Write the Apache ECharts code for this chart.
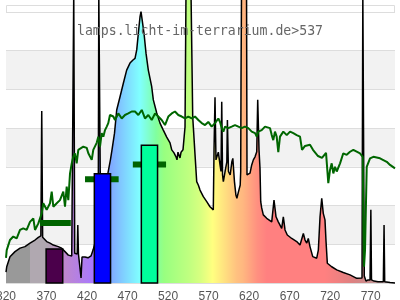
<!DOCTYPE html>
<html><head><meta charset="utf-8">
<script src="https://cdn.jsdelivr.net/npm/echarts@6/dist/echarts.min.js"></script>
<style>html,body{margin:0;padding:0;background:#fff}#c{width:400px;height:300px}</style>
</head><body><div id="c"></div>
<script>
// x ticks (nm)
var xMin = 320, xMax = 800, xStep = 50;
// lamp spectrum: wavelength (nm) and relative intensity
var specNm = [320,320.9,324.9,331.1,337.3,343.4,349.6,355.8,359.9,363.0,364.1,365.2,366.5,370.2,374.3,378.4,384.5,388.7,392.8,396.9,401.1,402.5,403.6,404.8,406.4,407.9,408.6,409.4,411.3,412.6,413.8,417.5,421.2,424.9,427.4,429.2,432.3,433.8,434.5,436.0,436.7,440.9,445.9,449.0,450.8,453.9,456.6,460.7,464.8,468.9,473.0,476.7,479.2,481.3,483.3,485.4,486.6,488.7,490.3,492.8,495.6,499.8,501.8,506.0,510.0,514.1,518.3,522.4,524.5,527.3,529.8,531.0,532.2,534.7,536.0,538.4,540.9,542.1,548.3,550.4,553.2,555.3,557.3,559.4,563.5,567.7,571.7,575.8,576.7,577.9,579.1,580.0,582.0,584.1,585.3,586.2,587.2,588.2,590.3,592.5,593.2,594.5,596.6,598.7,599.9,601.9,603.7,604.9,606.9,609.0,609.6,610.0,610.6,616.8,617.4,619.3,621.1,623.2,625.2,627.3,629.4,630.6,632.2,633.4,634.3,635.5,637.5,641.7,647.9,650.7,653.2,656.0,660.2,662.2,664.3,667.1,672.6,678.7,682.8,686.9,689.0,691.1,693.0,695.1,698.5,703.4,705.4,707.5,709.6,711.5,713.6,714.9,716.5,721.9,728.1,736.2,744.5,752.8,759.3,760.3,761.3,762.1,764.2,766.7,769.2,770.2,771.0,774.1,779.0,785.6,786.5,787.3,793.9,800];
var specVal = [2.8,4.2,6.8,8.1,9.0,9.4,10.3,11.1,11.8,12.2,44.4,11.8,11.5,10.7,10.3,9.8,9.4,9.0,8.1,7.2,7.0,7.0,75,7.7,7.7,7.5,15.0,7.5,7.0,1.3,6.7,6.7,6.5,7.0,8.5,9.8,12.4,14.2,75,75,17.6,22.7,28.5,32.0,34.4,38.7,44.7,48.1,51.6,55.0,56.8,57.6,58.0,60.2,64.5,68.8,70.1,69.7,64.5,59.3,55.0,50.7,47.3,43.9,41.3,39.5,37.7,36.2,34.4,33.6,32.6,31.8,33.8,32.3,33.8,34.4,40.3,75,75,42.9,33.3,26.2,25.3,24.0,22.3,21.0,19.7,18.9,34.4,48.0,31.8,31.3,33.8,30.5,28.8,46.8,27.9,26.2,28.8,31.3,42.1,28.8,27.9,31.3,32.2,26.2,22.7,21.9,23.6,25.3,28.8,52.4,75,75,27.9,27.5,28.4,30.5,31.8,32.6,33.9,47.3,34.4,29.7,21.0,19.4,17.6,16.7,15.8,21.4,17.1,15.8,14.1,17.1,13.7,12.4,11.5,10.7,9.8,12.8,11.1,10.3,11.5,9.4,6.8,6.4,8.5,17.1,21.9,18.0,16.3,10.7,5.1,4.2,3.4,2.7,2.1,1.2,1.3,75,75,1.8,0.5,0.8,0.8,18.9,0.8,0.5,0.3,0.3,15.0,0.3,0.1,0];
// reference (daylight) curve
var sunNm = [320,320.9,324.9,329.0,333.2,337.3,341.3,345.5,349.6,353.7,355.8,359.9,364.1,366.0,370.2,374.3,376.4,378.4,382.6,386.6,390.7,392.8,394.9,396.9,399.0,401.1,403.0,405.1,407.2,409.2,411.3,415.4,419.6,421.6,425.8,427.7,429.8,431.9,433.9,436.0,438.1,440.1,442.2,444.3,446.2,448.3,452.4,454.5,458.6,462.8,466.8,470.9,475.1,479.2,483.3,487.5,491.5,495.6,499.8,503.9,507.9,512.1,516.2,520.3,524.5,528.5,532.6,536.8,540.9,545.0,549.2,553.2,557.3,561.5,565.6,569.6,573.8,577.9,582.0,584.1,586.2,588.2,590.3,594.3,598.5,602.6,606.7,610.8,614.8,619.0,623.2,627.3,629.4,631.3,635.5,639.6,645.8,647.9,649.8,651.9,654.0,656.0,658.1,662.2,666.4,670.5,674.5,678.7,682.8,685.3,689.0,695.1,698.8,705.0,709.9,714.9,717.7,719.8,721.9,723.9,726.0,728.1,732.2,736.2,740.4,744.5,748.6,756.8,760.2,760.9,761.8,763.0,765.1,769.2,773.3,781.5,789.8,793.9,800];
var sunVal = [6.5,8.5,11.1,12.0,11.5,13.7,14.1,13.7,15.8,16.7,13.7,15.4,18.0,20.6,18.9,20.6,23.6,19.7,20.6,21.4,23.6,19.7,24.9,21.4,28.3,30.9,32.6,33.5,30.9,34.4,34.4,35.2,34.9,33.5,31.8,34.4,34.9,36.2,37.8,35.2,38.7,37.8,39.5,40.4,41.3,43.4,43.0,42.1,43.8,42.5,43.4,43.8,44.3,44.3,43.4,44.7,42.5,43.4,42.1,43.8,43.0,42.1,40.8,43.0,43.8,44.3,43.4,43.0,42.5,43.0,42.5,43.0,42.1,41.3,40.8,41.6,40.4,41.3,42.5,41.6,40.0,39.1,40.4,40.0,40.4,40.8,40.4,40.0,40.4,40.0,39.1,38.7,37.8,39.1,39.5,40.4,40.0,38.2,36.9,39.1,37.8,33.8,37.8,39.1,38.2,39.1,38.7,38.2,37.8,34.4,35.4,35.7,34.4,32.8,32.3,33.6,25.8,29.2,30.9,28.3,30.0,28.8,30.9,33.5,33.1,33.9,34.4,33.5,32.6,17.1,4.2,8.5,30.0,32.2,32.6,32.2,31.3,30.5,29.6];
// measured bands: start nm, end nm, value
var barStart = [369.5, 429, 487];
var barEnd = [390, 449, 507];
var barValue = [8.8, 28.2, 35.6];
// target markers: start nm, end nm, value
var markStart = [362, 417.5, 476.5];
var markEnd = [400, 459, 517.5];
var markValue = [15.5, 26.8, 30.6];
var titleText = 'lamps.licht-im-terrarium.de>537';

// styles
var barColors = ['#4b004b', '#0000ff', '#00ff9c'];
var gradNm = [320,349,350,369,389,428,436,449,465,485,495,505,515,546,560,575,590,605,612,630,642,713,730,745,760,780,800];
var gradCol = ['#999999','#999999','#b0a8b0','#b0a8b0','#c088c8','#a878ff','#8888ff','#80a8ff','#80d0ff','#80ffff','#80ffd0','#80ffa0','#98ff80','#c0ff80','#d8ff80','#ffff80','#ffe080','#ffc080','#ffb880','#ff9080','#ff8080','#ff8080','#f08080','#e08080','#d08888','#c09898','#b0a0a0'];

var spec = specNm.map(function(n,i){return [n, specVal[i]];});
var sun = sunNm.map(function(n,i){return [n, sunVal[i]];});
var bars = barStart.map(function(s,i){return [s, barEnd[i], barValue[i]];});
var marks = markStart.map(function(s,i){return [s, markEnd[i], markValue[i]];});
var stops = gradNm.map(function(n,i){return {offset:(n-xMin)/(xMax-xMin), color:gradCol[i]};});

var chart = echarts.init(document.getElementById('c'), null, {renderer:'canvas'});
chart.setOption({
  animation: false,
  title: {text: titleText, left: 'center', top: 25, padding: 0,
    textStyle: {fontFamily: 'DejaVu Sans Mono', fontSize: 13.2, fontWeight: 'normal', color: '#666'}},
  graphic: [{type:'rect', z: 0, silent: true, shape:{x:6.5, y:5.5, width:388, height:277},
    style:{fill:'none', stroke:'#dddddd', lineWidth:1}}],
  grid: {left: 6, right: 5, top: 12, bottom: 17, containLabel:false, outerBoundsMode:'none'},
  xAxis: {type:'value', min:xMin, max:xMax, interval:xStep,
    axisLine:{show:false}, axisTick:{show:false}, splitLine:{show:false},
    axisLabel:{showMaxLabel:false, color:'#555', fontFamily:'Liberation Sans', fontSize:12, margin:8}},
  yAxis: {type:'value', min:0, max:70, interval:10,
    axisLine:{show:false}, axisTick:{show:false}, axisLabel:{show:false},
    splitLine:{lineStyle:{color:'#dddddd'}},
    splitArea:{show:true, areaStyle:{color:['#ffffff','#f2f2f2']}}},
  series: [
    {type:'line', data: spec, symbol:'none', clip:false, z:2,
      lineStyle:{color:'#000', width:1.5},
      areaStyle:{opacity:1, color: new echarts.graphic.LinearGradient(0,0,1,0, stops)}},
    {type:'line', data: sun, symbol:'none', z:3,
      lineStyle:{color:'#006600', width:2}},
    {type:'custom', z:4, data: marks, encode:{x:[0,1], y:2},
      renderItem: function(params, api){
        var a = api.coord([api.value(0), api.value(2)]);
        var b = api.coord([api.value(1), api.value(2)]);
        return {type:'rect', shape:{x:a[0], y:a[1]-3, width:b[0]-a[0], height:6}, style:{fill:'#006400'}};
      }},
    {type:'custom', z:5, data: bars, encode:{x:[0,1], y:2},
      renderItem: function(params, api){
        var a = api.coord([api.value(0), api.value(2)]);
        var b = api.coord([api.value(1), 0]);
        return {type:'rect', shape:{x:a[0], y:a[1], width:b[0]-a[0], height:b[1]-a[1]},
          style:{fill: barColors[params.dataIndex], stroke:'#000', lineWidth:1.5}};
      }}
  ]
});
</script></body></html>
